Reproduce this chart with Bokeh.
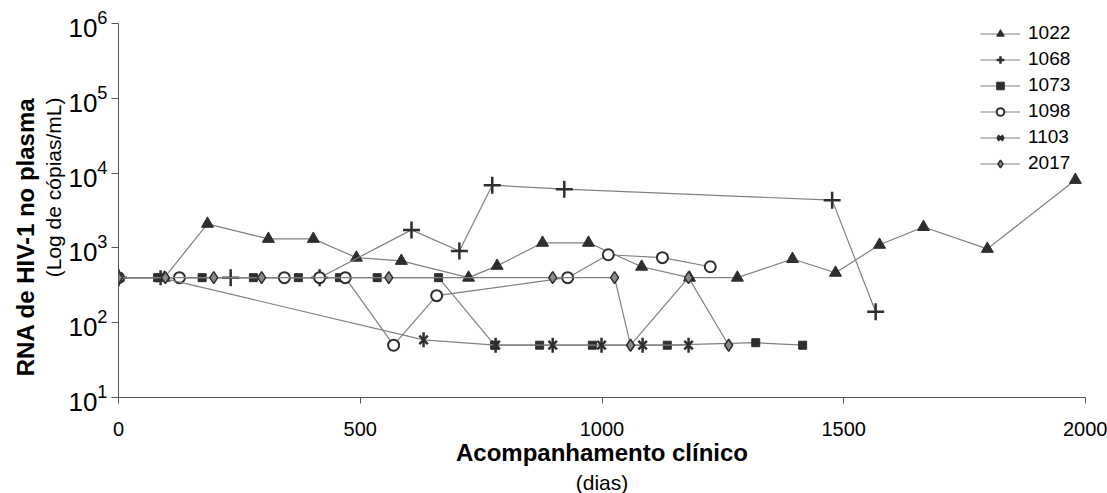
from math import pi
from bokeh.plotting import figure
from bokeh.models import Range1d, FixedTicker, Legend, LegendItem, LogTickFormatter, Title
from bokeh.embed import file_html
from bokeh.resources import INLINE

# ---------------- data ----------------
series_names = ["1022", "1068", "1073", "1098", "1103", "2017"]

days_1022 = [0, 95, 184, 310, 403, 492, 585, 724, 783, 877, 972, 1082, 1181, 1280, 1394, 1483, 1574, 1665, 1797, 1979]
vals_1022 = [400, 400, 2100, 1320, 1320, 740, 670, 400, 575, 1170, 1170, 560, 400, 400, 710, 465, 1100, 1900, 970, 8100]

days_1068 = [0, 232, 416, 606, 705, 773, 922, 1476, 1566]
vals_1068 = [400, 400, 400, 1740, 910, 6900, 6100, 4350, 140]

days_1073 = [0, 81, 173, 279, 372, 457, 535, 662, 778, 871, 980, 1135, 1318, 1415]
vals_1073 = [400, 400, 400, 400, 400, 400, 400, 400, 50, 50, 50, 50, 54, 50]

days_1098 = [0, 126, 343, 416, 469, 569, 658, 929, 1013, 1125, 1224]
vals_1098 = [400, 400, 400, 400, 400, 50, 230, 400, 810, 740, 560]

days_1103 = [0, 87, 631, 780, 898, 999, 1084, 1179]
vals_1103 = [400, 400, 59, 50, 50, 50, 50, 50]

days_2017 = [0, 97, 197, 296, 559, 898, 1026, 1059, 1179, 1262]
vals_2017 = [400, 400, 400, 400, 400, 400, 400, 50, 400, 50]

x_ticks = [0, 500, 1000, 1500, 2000]
y_ticks = [1e1, 1e2, 1e3, 1e4, 1e5, 1e6]

y_title = "RNA de HIV-1 no plasma"
y_subtitle = "(Log de cópias/mL)"
x_title = "Acompanhamento clínico"
x_subtitle = "(dias)"

# ---------------- figure ----------------
FONT = "Liberation Sans"
DARK = "#2e2e2e"
LINE = "#808080"
AXIS = "#555555"

p = figure(width=1107, height=493, y_axis_type="log",
           x_range=Range1d(0, 2000), y_range=Range1d(10, 1e6),
           output_backend="svg", toolbar_location=None,
           min_border_left=118, min_border_right=22, min_border_top=23, min_border_bottom=95)
p.outline_line_color = None
p.xgrid.visible = False
p.ygrid.visible = False
p.background_fill_color = "white"

xa = p.xaxis[0]
xa.ticker = FixedTicker(ticks=x_ticks)
xa.minor_tick_line_color = None
xa.major_tick_out = 6
xa.major_tick_in = 0
xa.axis_line_color = AXIS
xa.major_tick_line_color = AXIS
xa.major_label_text_font = FONT
xa.major_label_text_font_size = "20px"
xa.major_label_text_color = "black"
xa.major_label_standoff = 18
xa.axis_label = x_title
xa.axis_label_text_font = FONT
xa.axis_label_text_font_style = "bold"
xa.axis_label_text_font_size = "24px"
xa.axis_label_text_color = "black"
xa.axis_label_standoff = 0

ya = p.yaxis[0]
ya.ticker = FixedTicker(ticks=y_ticks)
ya.formatter = LogTickFormatter()
ya.minor_tick_line_color = None
ya.major_tick_out = 7
ya.major_tick_in = 0
ya.axis_line_color = AXIS
ya.major_tick_line_color = AXIS
ya.major_label_text_font = FONT
ya.major_label_text_font_size = "26px"
ya.major_label_text_color = "black"
ya.major_label_standoff = 4

p.add_layout(Title(text=y_subtitle, align="right", offset=74, standoff=1,
                   text_font=FONT, text_font_style="normal", text_font_size="21px",
                   text_color="black"), "left")
p.add_layout(Title(text=y_title, align="right", offset=74, standoff=2,
                   text_font=FONT, text_font_style="bold", text_font_size="24px",
                   text_color="black"), "left")
p.add_layout(Title(text=x_subtitle, align="center", standoff=0,
                   text_font=FONT, text_font_style="normal", text_font_size="21px",
                   text_color="black"), "below")

# ---------------- series ----------------
styles = {
    "1022": [dict(marker="triangle", size=12, fill_color=DARK, line_color=DARK, line_width=1)],
    "1068": [dict(marker="cross", size=17, fill_color=None, line_color=DARK, line_width=2.5)],
    "1073": [dict(marker="square", size=8, fill_color=DARK, line_color=DARK, line_width=1)],
    "1098": [dict(marker="circle", size=11, fill_color="white", line_color=DARK, line_width=2)],
    "1103": [dict(marker="x", size=12, fill_color=None, line_color=DARK, line_width=2.5),
             dict(marker="dash", angle=pi / 2, size=15, fill_color=None, line_color=DARK, line_width=2.5)],
    "2017": [dict(marker="diamond", size=12, fill_color="#8a8a8a", line_color=DARK, line_width=1.5)],
}
data = {
    "1022": (days_1022, vals_1022),
    "1068": (days_1068, vals_1068),
    "1073": (days_1073, vals_1073),
    "1098": (days_1098, vals_1098),
    "1103": (days_1103, vals_1103),
    "2017": (days_2017, vals_2017),
}

items = []
for name in series_names:
    xs, ys = data[name]
    rs = [p.line(xs, ys, line_color=LINE, line_width=1.2)]
    for st in styles[name]:
        rs.append(p.scatter(xs, ys, **st))
    items.append(LegendItem(label=name, renderers=rs))

legend = Legend(items=items, location=(862, 223), margin=0, padding=0,
                glyph_width=40, glyph_height=19, label_height=19, spacing=4,
                label_standoff=8, label_text_font=FONT, label_text_font_size="19px",
                label_text_color="black", border_line_color=None, background_fill_alpha=0)
p.add_layout(legend)

open("out.html", "w").write(file_html(p, INLINE))
